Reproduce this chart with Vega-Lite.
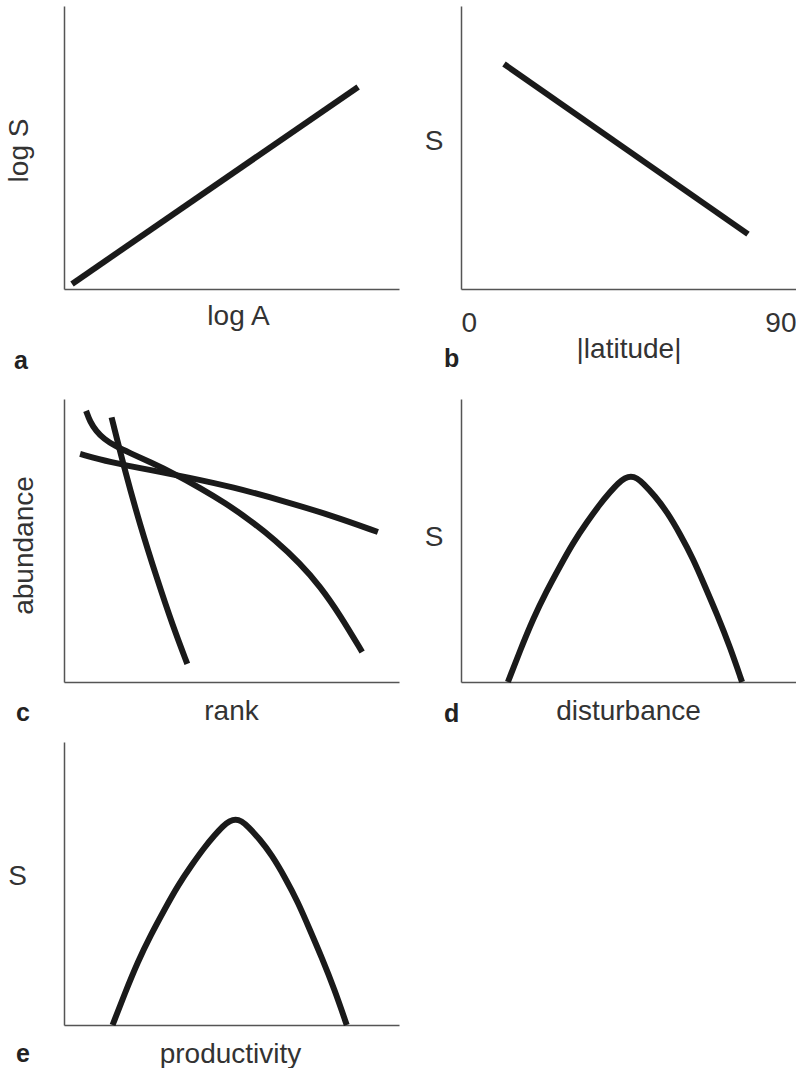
{
  "$schema": "https://vega.github.io/schema/vega-lite/v6.json",
  "background": "white",
  "padding": {"left": 5, "top": 6, "right": 0, "bottom": 0},
  "autosize": {"type": "pad"},
  "config": {
    "view": {"stroke": null},
    "font": "Liberation Sans",
    "axis": {
      "grid": false, "ticks": false, "tickSize": 0, "labels": false,
      "domainColor": "#555", "domainWidth": 1.5,
      "titleFont": "Liberation Sans", "titleFontSize": 28, "titleFontWeight": "normal", "titleColor": "#333",
      "labelFont": "Liberation Sans", "labelFontSize": 28, "labelColor": "#333"
    },
    "title": {"font": "Liberation Sans", "fontSize": 25, "fontWeight": "bold", "color": "#222", "orient": "bottom", "anchor": "start", "frame": "group"},
    "line": {"color": "#1a1a1a", "strokeWidth": 6, "strokeCap": "butt", "strokeJoin": "round"}
  },
  "columns": 2,
  "spacing": {"row": 60, "column": 62},
  "bounds": "flush",
  "align": "each",
  "concat": [
    {
      "width": 335, "height": 333,
      "title": {"text": "a", "dx": -50, "offset": 10},
      "data": {"values": [{"logA": 2.4, "logS": 1.8}, {"logA": 87.8, "logS": 71.4}]},
      "mark": {"type": "line"},
      "encoding": {
        "x": {"field": "logA", "type": "quantitative", "scale": {"domain": [0, 100], "nice": false},
              "axis": {"title": "log A", "offset": -50, "titleX": 174, "titleY": 35, "titleAlign": "center", "titleBaseline": "alphabetic"}},
        "y": {"field": "logS", "type": "quantitative", "scale": {"domain": [0, 100], "nice": false, "range": [283, 0]},
              "axis": {"title": "log S", "titleAngle": 270, "titleX": -37, "titleY": 144, "titleAlign": "center", "titleBaseline": "alphabetic"}}
      }
    },
    {
      "width": 335, "height": 333,
      "title": {"text": "b", "dx": -17, "offset": -16},
      "data": {"values": [{"latitude": 11.55, "S": 79.5}, {"latitude": 77.1, "S": 19.4}]},
      "mark": {"type": "line"},
      "encoding": {
        "x": {"field": "latitude", "type": "quantitative", "scale": {"domain": [0, 90], "nice": false},
              "axis": {"title": "|latitude|", "offset": -50, "labels": true, "values": [0, 90], "labelFlush": true, "labelPadding": 42, "labelBaseline": "alphabetic",
                       "titleX": 167.5, "titleY": 68, "titleAlign": "center", "titleBaseline": "alphabetic"}},
        "y": {"field": "S", "type": "quantitative", "scale": {"domain": [0, 100], "nice": false, "range": [283, 0]},
              "axis": {"title": "S", "titleAngle": 0, "titleX": -27.5, "titleY": 143, "titleAlign": "center", "titleBaseline": "alphabetic"}}
      }
    },
    {
      "width": 335, "height": 283,
      "title": {"text": "c", "dx": -48, "offset": -24},
      "data": {"values": [
        {"curve": "steep", "rank": 14.2, "abundance": 93.5},
        {"curve": "steep", "rank": 18.2, "abundance": 74.6},
        {"curve": "steep", "rank": 22.7, "abundance": 55.5},
        {"curve": "steep", "rank": 27.7, "abundance": 36.7},
        {"curve": "steep", "rank": 32.6, "abundance": 19.4},
        {"curve": "steep", "rank": 36.8, "abundance": 6.4},
        {"curve": "convex", "rank": 6.6, "abundance": 95.8},
        {"curve": "convex", "rank": 7.8, "abundance": 91.9},
        {"curve": "convex", "rank": 9.6, "abundance": 88.7},
        {"curve": "convex", "rank": 11.9, "abundance": 85.9},
        {"curve": "convex", "rank": 15.2, "abundance": 83.4},
        {"curve": "convex", "rank": 19.7, "abundance": 80.9},
        {"curve": "convex", "rank": 25.7, "abundance": 77.7},
        {"curve": "convex", "rank": 33.1, "abundance": 73.5},
        {"curve": "convex", "rank": 40.6, "abundance": 68.6},
        {"curve": "convex", "rank": 48.1, "abundance": 63.3},
        {"curve": "convex", "rank": 55.5, "abundance": 57.2},
        {"curve": "convex", "rank": 63.0, "abundance": 50.2},
        {"curve": "convex", "rank": 70.4, "abundance": 42.0},
        {"curve": "convex", "rank": 76.4, "abundance": 33.9},
        {"curve": "convex", "rank": 82.4, "abundance": 23.7},
        {"curve": "convex", "rank": 89.0, "abundance": 10.6},
        {"curve": "flat", "rank": 4.8, "abundance": 80.6},
        {"curve": "flat", "rank": 13.7, "abundance": 77.7},
        {"curve": "flat", "rank": 25.7, "abundance": 74.9},
        {"curve": "flat", "rank": 36.7, "abundance": 72.4},
        {"curve": "flat", "rank": 50.4, "abundance": 68.9},
        {"curve": "flat", "rank": 65.4, "abundance": 64.0},
        {"curve": "flat", "rank": 80.3, "abundance": 58.7},
        {"curve": "flat", "rank": 93.7, "abundance": 53.0}
      ]},
      "mark": {"type": "line", "interpolate": "basis"},
      "encoding": {
        "detail": {"field": "curve", "type": "nominal"},
        "x": {"field": "rank", "type": "quantitative", "scale": {"domain": [0, 100], "nice": false},
              "axis": {"title": "rank", "titleX": 167, "titleY": 37, "titleAlign": "center", "titleBaseline": "alphabetic"}},
        "y": {"field": "abundance", "type": "quantitative", "scale": {"domain": [0, 100], "nice": false},
              "axis": {"title": "abundance", "titleAngle": 270, "titleX": -32, "titleY": 146, "titleAlign": "center", "titleBaseline": "alphabetic"}}
      }
    },
    {
      "width": 335, "height": 283,
      "title": {"text": "d", "dx": -17, "offset": -23},
      "data": {"values": [
        {"disturbance": 14.0, "S": 0},
        {"disturbance": 17.6, "S": 11.0},
        {"disturbance": 21.5, "S": 22.3},
        {"disturbance": 25.4, "S": 31.8},
        {"disturbance": 29.6, "S": 41.0},
        {"disturbance": 33.4, "S": 49.1},
        {"disturbance": 37.6, "S": 56.5},
        {"disturbance": 41.5, "S": 62.9},
        {"disturbance": 44.5, "S": 67.1},
        {"disturbance": 46.9, "S": 70.3},
        {"disturbance": 49.0, "S": 72.1},
        {"disturbance": 50.7, "S": 72.8},
        {"disturbance": 52.5, "S": 72.1},
        {"disturbance": 54.3, "S": 70.3},
        {"disturbance": 57.9, "S": 65.7},
        {"disturbance": 61.5, "S": 60.1},
        {"disturbance": 65.4, "S": 52.3},
        {"disturbance": 69.3, "S": 43.5},
        {"disturbance": 72.8, "S": 33.9},
        {"disturbance": 76.4, "S": 24.0},
        {"disturbance": 80.3, "S": 12.4},
        {"disturbance": 83.9, "S": 0}
      ]},
      "mark": {"type": "line", "interpolate": "basis"},
      "encoding": {
        "x": {"field": "disturbance", "type": "quantitative", "scale": {"domain": [0, 100], "nice": false},
              "axis": {"title": "disturbance", "titleX": 167, "titleY": 37, "titleAlign": "center", "titleBaseline": "alphabetic"}},
        "y": {"field": "S", "type": "quantitative", "scale": {"domain": [0, 100], "nice": false},
              "axis": {"title": "S", "titleAngle": 0, "titleX": -27.5, "titleY": 146, "titleAlign": "center", "titleBaseline": "alphabetic"}}
      }
    },
    {
      "width": 335, "height": 283,
      "title": {"text": "e", "dx": -48, "offset": -26},
      "data": {"values": [
        {"productivity": 14.5, "S": 0},
        {"productivity": 18.1, "S": 11.0},
        {"productivity": 22.0, "S": 22.3},
        {"productivity": 25.9, "S": 31.8},
        {"productivity": 30.1, "S": 41.0},
        {"productivity": 33.9, "S": 49.1},
        {"productivity": 38.1, "S": 56.5},
        {"productivity": 42.0, "S": 62.9},
        {"productivity": 45.0, "S": 67.1},
        {"productivity": 47.4, "S": 70.3},
        {"productivity": 49.5, "S": 72.1},
        {"productivity": 51.2, "S": 72.8},
        {"productivity": 53.0, "S": 72.1},
        {"productivity": 54.8, "S": 70.3},
        {"productivity": 58.4, "S": 65.7},
        {"productivity": 62.0, "S": 60.1},
        {"productivity": 65.9, "S": 52.3},
        {"productivity": 69.8, "S": 43.5},
        {"productivity": 73.3, "S": 33.9},
        {"productivity": 76.9, "S": 24.0},
        {"productivity": 80.8, "S": 12.4},
        {"productivity": 84.4, "S": 0}
      ]},
      "mark": {"type": "line", "interpolate": "basis"},
      "encoding": {
        "x": {"field": "productivity", "type": "quantitative", "scale": {"domain": [0, 100], "nice": false},
              "axis": {"title": "productivity", "titleX": 166, "titleY": 37, "titleAlign": "center", "titleBaseline": "alphabetic"}},
        "y": {"field": "S", "type": "quantitative", "scale": {"domain": [0, 100], "nice": false},
              "axis": {"title": "S", "titleAngle": 0, "titleX": -47, "titleY": 142, "titleAlign": "center", "titleBaseline": "alphabetic"}}
      }
    }
  ]
}
